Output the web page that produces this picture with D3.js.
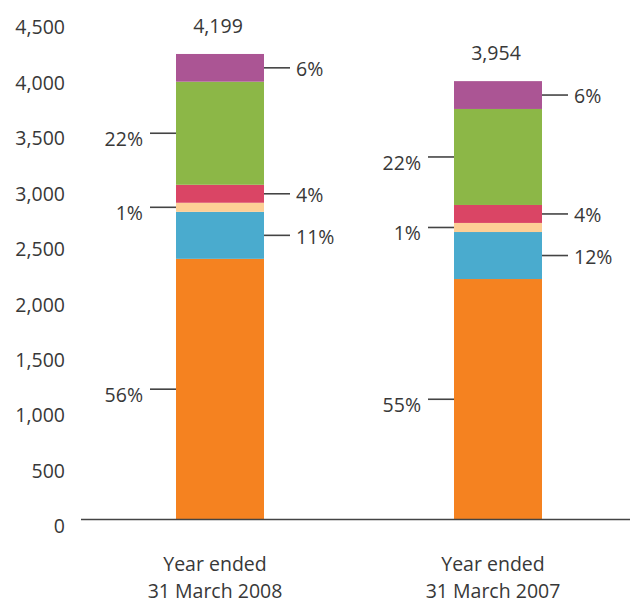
<!DOCTYPE html>
<html>
<head>
<meta charset="utf-8">
<script src="https://cdn.jsdelivr.net/npm/d3@7"></script>
<style>
  html, body { margin: 0; padding: 0; background: #fff; }
  svg { display: block; }
  text { font-family: "Open Sans", "Noto Sans", sans-serif; font-weight: 400; fill: #383838; }
</style>
</head>
<body>
<svg id="chart" width="630" height="603"></svg>
<script>
// Periods shown (label lines under each bar)
const categories = ["2008", "2007"];
const categoryLines = [["Year ended", "31 March 2008"], ["Year ended", "31 March 2007"]];

// Stack segments, bottom to top
const segments = ["orange", "blue", "peach", "red", "green", "purple"];
const segmentColors = ["#f58220", "#4aabce", "#fdcf96", "#da4565", "#8cb747", "#ab5594"];

// Segment values for each period (bottom to top)
const values2008 = [2351, 424, 82, 162, 930, 250];
const values2007 = [2169, 424, 82, 162, 866, 251];

// Totals printed above the bars
const totals = [4199, 3954];

// Share labels for each segment
const shares2008 = ["56%", "11%", "1%", "4%", "22%", "6%"];
const shares2007 = ["55%", "12%", "1%", "4%", "22%", "6%"];
const shareSide = ["left", "right", "left", "right", "left", "right"];

// Axis ticks
const yTicks = [0, 500, 1000, 1500, 2000, 2500, 3000, 3500, 4000, 4500];

const FONT_SIZE = "19.5px";
const svg = d3.select("#chart");
const fmt = d3.format(",");

const x = d3.scaleBand()
  .domain(categories)
  .range([81, 637])
  .paddingInner(1 - 88 / 278)
  .paddingOuter((1 - 88 / 278) / 2);

const y = d3.scaleLinear()
  .domain([0, 4500])
  .range([519.5, 20.6]);

const rows = categories.map((c, i) => {
  const vals = i === 0 ? values2008 : values2007;
  const row = { category: c };
  segments.forEach((s, j) => row[s] = vals[j]);
  return row;
});
const shares = [shares2008, shares2007];

const stacked = d3.stack().keys(segments)(rows);

// Y axis labels (no line, no ticks)
const yAxis = d3.axisLeft(y).tickValues(yTicks).tickSize(0).tickPadding(16).tickFormat(fmt);
const gy = svg.append("g").attr("transform", "translate(81,0)").call(yAxis);
gy.attr("font-family", null).attr("font-size", null);
gy.select(".domain").remove();
gy.selectAll("text")
  .attr("dy", "0.32em")
  .attr("y", 7)
  .attr("fill", null)
  .style("font-size", FONT_SIZE);

// Bars
svg.append("g").selectAll("g")
  .data(stacked)
  .join("g")
  .attr("fill", (d, i) => segmentColors[i])
  .selectAll("rect")
  .data(d => d)
  .join("rect")
  .attr("x", d => x(d.data.category))
  .attr("width", x.bandwidth())
  .attr("y", d => y(d[1]))
  .attr("height", d => y(d[0]) - y(d[1]));

// Leader lines and share labels
const labelData = [];
stacked.forEach((layer, j) => {
  layer.forEach((d, i) => {
    labelData.push({
      cat: d.data.category,
      mid: (d[0] + d[1]) / 2,
      side: shareSide[j],
      text: shares[i][j]
    });
  });
});

const lg = svg.append("g");
lg.selectAll("line")
  .data(labelData)
  .join("line")
  .attr("x1", d => d.side === "right" ? x(d.cat) + x.bandwidth() : x(d.cat) - 26)
  .attr("x2", d => d.side === "right" ? x(d.cat) + x.bandwidth() + 26 : x(d.cat))
  .attr("y1", d => y(d.mid))
  .attr("y2", d => y(d.mid))
  .attr("stroke", "#444")
  .attr("stroke-width", 1.6);

lg.selectAll("text")
  .data(labelData)
  .join("text")
  .attr("x", d => d.side === "right" ? x(d.cat) + x.bandwidth() + 32 : x(d.cat) - 33)
  .attr("y", d => y(d.mid) + (d.side === "right" ? 1.5 : 6))
  .attr("dy", "0.35em")
  .attr("text-anchor", d => d.side === "right" ? "start" : "end")
  .style("font-size", FONT_SIZE)
  .text(d => d.text);

// Totals above bars
svg.append("g").selectAll("text")
  .data(categories)
  .join("text")
  .attr("x", (c) => x(c) + x.bandwidth() / 2 - 2)
  .attr("y", (c, i) => y(totals[i]) - 28)
  .attr("dy", "0.35em")
  .attr("text-anchor", "middle")
  .style("font-size", FONT_SIZE)
  .text((c, i) => fmt(totals[i]));

// Baseline
svg.append("line")
  .attr("x1", 81).attr("x2", 630)
  .attr("y1", y(0)).attr("y2", y(0))
  .attr("stroke", "#444")
  .attr("stroke-width", 1.6);

// Category labels
const cg = svg.append("g").selectAll("text")
  .data(categories)
  .join("text")
  .attr("text-anchor", "middle")
  .style("font-size", FONT_SIZE);
cg.selectAll("tspan")
  .data((c, i) => categoryLines[i].map(t => ({ c, t })))
  .join("tspan")
  .attr("x", d => x(d.c) + x.bandwidth() / 2 - 5)
  .attr("y", (d, k) => 564 + k * 27)
  .attr("dy", "0.35em")
  .text(d => d.t);
</script>
</body>
</html>
